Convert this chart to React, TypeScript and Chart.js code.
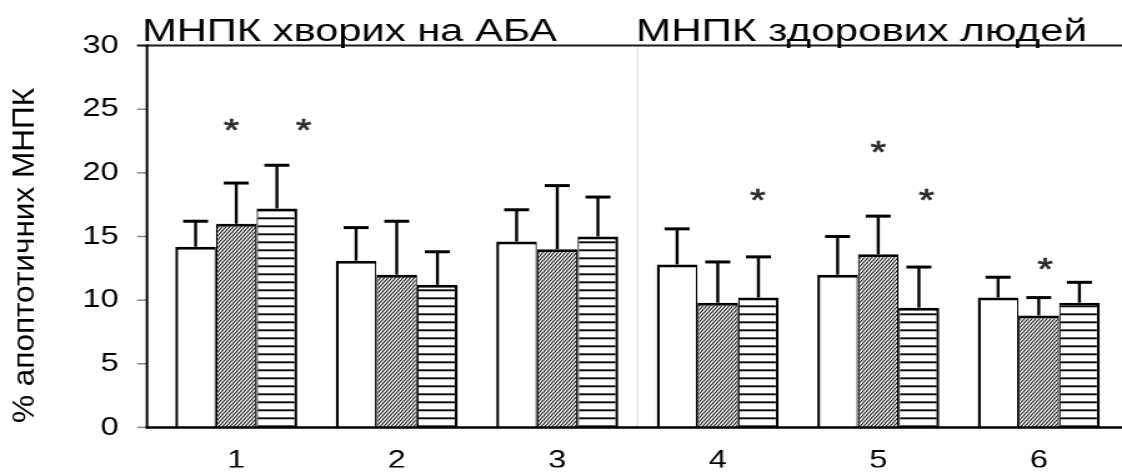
import React, { useEffect, useRef } from "react";
import { Chart, registerables } from "chart.js";

Chart.register(...registerables);

// ---- data ----
const categories = ["1", "2", "3", "4", "5", "6"];
const seriesWhite = [14.2, 13.1, 14.6, 12.8, 12.0, 10.2];
const seriesHatched = [16.0, 12.0, 14.0, 9.8, 13.6, 8.8];
const seriesStriped = [17.2, 11.2, 15.0, 10.2, 9.4, 9.8];
const sdWhite = [2.0, 2.6, 2.5, 2.8, 3.0, 1.6];
const sdHatched = [3.2, 4.2, 5.0, 3.2, 3.0, 1.4];
const sdStriped = [3.4, 2.6, 3.1, 3.2, 3.2, 1.6];
const yTicks = [0, 5, 10, 15, 20, 25, 30];
const groupTitles = ["МНПК хворих на АБА", "МНПК здорових людей"];
const yAxisTitle = "% апоптотичних МНПК";
// significance marks: position on the category axis (index units) and value
const starCategoryPos = [-0.03, 0.42, 3.25, 4.0, 4.3, 5.04];
const starValues = [23.8, 23.8, 18.3, 22.0, 18.3, 12.8];

// ---- rendering constants ----
const CW = 898;
const CH = 473;
const S = 1122 / CW; // horizontal stretch of the canvas on screen
const FAMILY = "'Liberation Sans', Arial, Helvetica, sans-serif";

function makeHatch(): CanvasPattern | string {
  const t = document.createElement("canvas");
  t.width = 3;
  t.height = 4;
  const c = t.getContext("2d");
  if (!c) return "#888";
  c.fillStyle = "#fff";
  c.fillRect(0, 0, 3, 4);
  c.strokeStyle = "#111";
  c.lineWidth = 1.05;
  for (const dx of [-3, 0, 3]) {
    c.beginPath();
    c.moveTo(dx - 3, 8);
    c.lineTo(dx + 6, -4);
    c.stroke();
  }
  return c.createPattern(t, "repeat") || "#888";
}

function makeStripes(): CanvasPattern | string {
  const t = document.createElement("canvas");
  t.width = 4;
  t.height = 8;
  const c = t.getContext("2d");
  if (!c) return "#888";
  c.fillStyle = "#fff";
  c.fillRect(0, 0, 4, 8);
  c.fillStyle = "#111";
  c.fillRect(0, 1.3, 4, 2);
  return c.createPattern(t, "repeat") || "#888";
}

export default function App() {
  const ref = useRef<HTMLCanvasElement>(null);

  useEffect(() => {
    const canvas = ref.current;
    if (!canvas) return;
    const X = (px: number) => px / S;
    const hatch = makeHatch();
    const stripes = makeStripes();
    const values = [seriesWhite, seriesHatched, seriesStriped];
    const sds = [sdWhite, sdHatched, sdStriped];

    const decor = {
      id: "decor",
      beforeDatasetsDraw(chart: any) {
        const { ctx } = chart;
        const x = chart.scales.x;
        const y = chart.scales.y;
        const xd = x.getPixelForValue(2.5);
        ctx.save();
        ctx.strokeStyle = "#d2d2d2";
        ctx.lineWidth = 1;
        ctx.beginPath();
        ctx.moveTo(xd, y.getPixelForValue(30));
        ctx.lineTo(xd, y.getPixelForValue(0));
        ctx.stroke();
        ctx.restore();
      },
      afterDatasetsDraw(chart: any) {
        const { ctx } = chart;
        const x = chart.scales.x;
        const y = chart.scales.y;
        ctx.save();
        // error bars
        ctx.strokeStyle = "#000";
        ctx.lineCap = "butt";
        for (let d = 0; d < 3; d++) {
          const meta = chart.getDatasetMeta(d);
          meta.data.forEach((el: any, i: number) => {
            const bx = el.x;
            const top = y.getPixelForValue(values[d][i]);
            const end = y.getPixelForValue(values[d][i] + sds[d][i]);
            ctx.lineWidth = 2.4;
            ctx.beginPath();
            ctx.moveTo(bx, top);
            ctx.lineTo(bx, end);
            ctx.stroke();
            ctx.lineWidth = 3;
            ctx.beginPath();
            ctx.moveTo(bx - 10, end);
            ctx.lineTo(bx + 10, end);
            ctx.stroke();
          });
        }
        // axes
        const axisX = X(147);
        const yTop = y.getPixelForValue(30);
        const yBot = y.getPixelForValue(0);
        ctx.strokeStyle = "#888";
        ctx.lineWidth = 1.5;
        yTicks.forEach((v) => {
          const py = y.getPixelForValue(v);
          ctx.beginPath();
          ctx.moveTo(X(137), py);
          ctx.lineTo(axisX, py);
          ctx.stroke();
        });
        ctx.strokeStyle = "#1a1a1a";
        ctx.lineWidth = 2;
        ctx.beginPath();
        ctx.moveTo(X(137), yTop);
        ctx.lineTo(CW, yTop);
        ctx.stroke();
        ctx.strokeStyle = "#000";
        ctx.lineWidth = 2;
        ctx.beginPath();
        ctx.moveTo(axisX, yTop - 1);
        ctx.lineTo(axisX, yBot + 1);
        ctx.stroke();
        ctx.lineWidth = 2.5;
        ctx.beginPath();
        ctx.moveTo(axisX - 1, yBot);
        ctx.lineTo(CW, yBot);
        ctx.stroke();
        // significance asterisks
        ctx.fillStyle = "#2a2a2a";
        ctx.strokeStyle = "#2a2a2a";
        ctx.lineWidth = 0.7;
        ctx.font = `32px ${FAMILY}`;
        ctx.textAlign = "center";
        ctx.textBaseline = "alphabetic";
        const m = ctx.measureText("*");
        const shift = (m.actualBoundingBoxAscent - m.actualBoundingBoxDescent) / 2;
        starCategoryPos.forEach((p, i) => {
          const px = x.getPixelForValue(p);
          const py = y.getPixelForValue(starValues[i]);
          ctx.fillText("*", px, py + shift);
          ctx.strokeText("*", px, py + shift);
        });
        ctx.restore();
      },
      afterDraw(chart: any) {
        const { ctx } = chart;
        ctx.save();
        ctx.fillStyle = "#000";
        ctx.textBaseline = "alphabetic";
        ctx.textAlign = "left";
        ctx.font = `31px ${FAMILY}`;
        const titleSpecs = [
          { text: groupTitles[0], left: X(142), width: X(557) - X(142) },
          { text: groupTitles[1], left: X(636), width: X(1087) - X(636) },
        ];
        titleSpecs.forEach((t) => {
          const w = ctx.measureText(t.text).width;
          ctx.save();
          ctx.translate(t.left, 40.5);
          ctx.scale(t.width / w, 1);
          ctx.fillText(t.text, 0, 0);
          ctx.restore();
        });
        // y-axis title
        ctx.font = `23px ${FAMILY}`;
        ctx.textAlign = "center";
        const w = ctx.measureText(yAxisTitle).width;
        ctx.translate(X(33.5), 255.5);
        ctx.rotate(-Math.PI / 2);
        ctx.scale(335 / w, 1);
        ctx.fillText(yAxisTitle, 0, 0);
        ctx.restore();
      },
    };

    const chart = new Chart(canvas, {
      type: "bar",
      data: {
        labels: categories,
        datasets: [
          {
            data: seriesWhite,
            backgroundColor: "#ffffff",
            borderColor: "#000",
            borderWidth: { top: 3, left: 2.4, right: 1.2, bottom: 0 },
          },
          {
            data: seriesHatched,
            backgroundColor: hatch as any,
            borderColor: "#000",
            borderWidth: { top: 3, left: 1.2, right: 1.2, bottom: 0 },
          },
          {
            data: seriesStriped,
            backgroundColor: stripes as any,
            borderColor: "#000",
            borderWidth: { top: 3, left: 1.2, right: 2.4, bottom: 0 },
          },
        ],
      },
      options: {
        responsive: false,
        animation: false,
        devicePixelRatio: 1,
        layout: { padding: { top: 43, right: CW - X(1119), left: 0, bottom: 0 } },
        plugins: {
          legend: { display: false },
          tooltip: { enabled: false },
          title: { display: false },
        },
        datasets: { bar: { categoryPercentage: 0.76, barPercentage: 1 } },
        scales: {
          x: {
            type: "category",
            offset: true,
            grid: { display: false, drawTicks: false },
            border: { display: false },
            ticks: {
              font: { family: FAMILY, size: 26 },
              color: "#000",
              padding: 18,
              maxRotation: 0,
              autoSkip: false,
            },
            afterFit: (s: any) => {
              s.height = 40;
            },
          },
          y: {
            min: 0,
            max: 30,
            grid: { display: false, drawTicks: false },
            border: { display: false },
            afterBuildTicks: (s: any) => {
              s.ticks = yTicks.map((v) => ({ value: v }));
            },
            ticks: {
              font: { family: FAMILY, size: 26 },
              color: "#000",
              padding: 30,
            },
            afterFit: (s: any) => {
              s.width = X(156);
            },
          },
        },
      } as any,
      plugins: [decor],
    });

    return () => chart.destroy();
  }, []);

  return (
    <div style={{ position: "absolute", left: 0, top: 0, width: 1122, height: CH, background: "#fff", overflow: "hidden" }}>
      <canvas
        ref={ref}
        width={CW}
        height={CH}
        style={{ width: "1122px", height: `${CH}px`, display: "block" }}
      />
    </div>
  );
}
